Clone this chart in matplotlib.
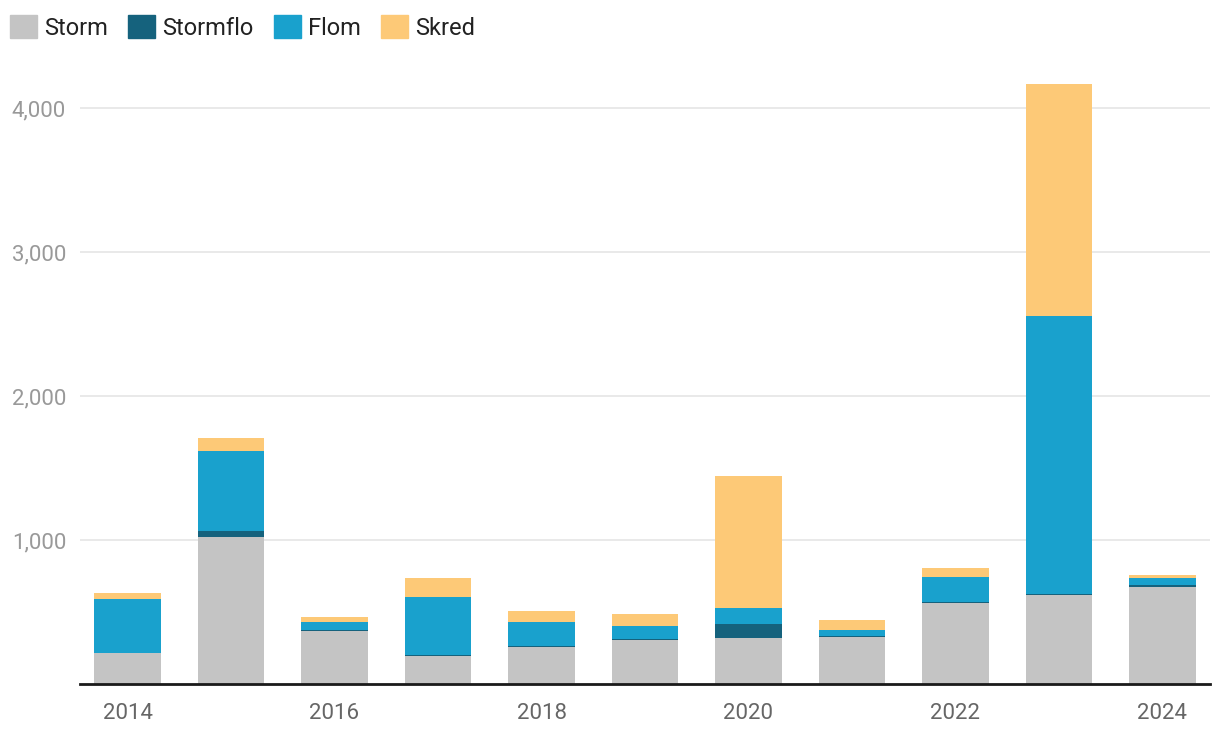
import matplotlib
matplotlib.use("Agg")
import matplotlib.pyplot as plt
from matplotlib.patches import Patch
from matplotlib.ticker import FuncFormatter

plt.rcParams["font.family"] = ["Roboto", "DejaVu Sans"]

years = [2014, 2015, 2016, 2017, 2018, 2019, 2020, 2021, 2022, 2023, 2024]
storm = [215, 1020, 366, 195, 257, 305, 320, 326, 563, 618, 674]
stormflo = [2, 42, 8, 7, 7, 7, 97, 7, 6, 7, 14]
flom = [375, 556, 58, 402, 167, 90, 111, 42, 174, 1931, 48]
skred = [42, 90, 34, 132, 76, 83, 916, 69, 63, 1611, 21]

series = [("Storm", storm, "#c4c4c4"),
          ("Stormflo", stormflo, "#15627d"),
          ("Flom", flom, "#19a1cd"),
          ("Skred", skred, "#fdc977")]

fig = plt.figure(figsize=(12.2, 7.42), dpi=100)
ax = fig.add_axes([80 / 1220, 1 - 684 / 742, 1130 / 1220, 619 / 742])

bottom = [0] * len(years)
for name, vals, color in series:
    ax.bar(years, vals, width=0.64, bottom=bottom, color=color, label=name, zorder=3)
    bottom = [b + v for b, v in zip(bottom, vals)]

ax.set_xlim(2013.54, 2024.46)
ax.set_ylim(0, 4300)
ax.set_yticks([1000, 2000, 3000, 4000])
ax.yaxis.set_major_formatter(FuncFormatter(lambda v, p: f"{int(v):,}"))
ax.set_xticks([2014, 2016, 2018, 2020, 2022, 2024])
ax.grid(axis="y", color="#e5e5e5", linewidth=1.2, zorder=0)
for s in ["top", "right", "left"]:
    ax.spines[s].set_visible(False)
ax.spines["bottom"].set_color("#1a1a1a")
ax.spines["bottom"].set_linewidth(2)
ax.spines["bottom"].set_zorder(4)
ax.tick_params(axis="both", length=0, labelsize=16)
ax.tick_params(axis="y", pad=10, colors="#999999")
ax.tick_params(axis="x", pad=14, colors="#666666")

handles = [Patch(color=c, label=n) for n, _, c in series]
fig.legend(handles=handles, loc="upper left", bbox_to_anchor=(10 / 1220, 1 - 15 / 742),
           ncol=4, frameon=False, fontsize=17, handlelength=1.15, handleheight=1.15,
           handletextpad=0.3, columnspacing=0.85, borderaxespad=0, borderpad=0,
           labelcolor="#222222")

fig.savefig("out.png", dpi=100)
